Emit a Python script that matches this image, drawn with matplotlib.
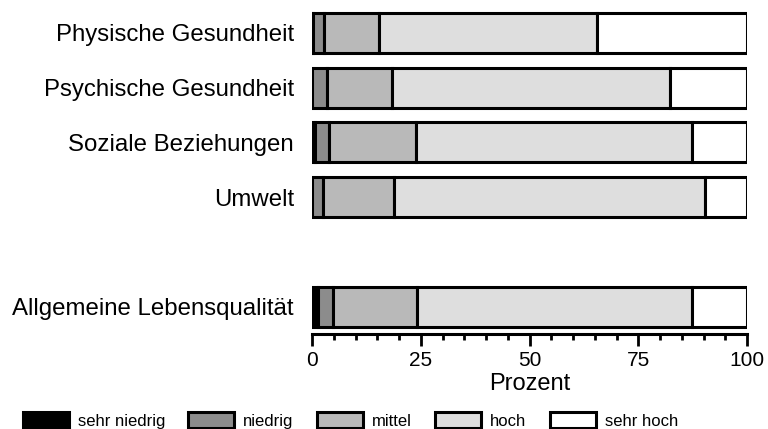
import matplotlib
matplotlib.use("Agg")
import matplotlib.pyplot as plt
import numpy as np

plt.rcParams['font.family'] = ['Liberation Sans', 'DejaVu Sans']

# Daten (Prozent je Kategorie)
bereiche = ['Physische Gesundheit', 'Psychische Gesundheit', 'Soziale Beziehungen',
            'Umwelt', 'Allgemeine Lebensqualität']
positionen = [0, 1, 2, 3, 5]
stufen = ['sehr niedrig', 'niedrig', 'mittel', 'hoch', 'sehr hoch']
sehr_niedrig = [0.3, 0.0, 0.8, 0.0, 1.3]
niedrig = [2.5, 3.4, 3.2, 2.6, 3.6]
mittel = [12.5, 15.1, 20.0, 16.2, 19.3]
hoch = [50.2, 63.7, 63.4, 71.6, 63.2]
sehr_hoch = [34.5, 17.8, 12.6, 9.6, 12.6]

farben = ['#000000', '#8c8c8c', '#b9b9b9', '#dedede', '#ffffff']

fig = plt.figure(figsize=(7.68, 4.29), dpi=100)
ax = fig.add_axes([312 / 768, 1 - 333.5 / 429, 435 / 768, 323.5 / 429])

links = np.zeros(len(bereiche))
for name, werte, farbe in zip(stufen, [sehr_niedrig, niedrig, mittel, hoch, sehr_hoch], farben):
    ax.barh(positionen, werte, left=links, height=0.73, color=farbe,
            edgecolor='black', linewidth=2.2, label=name)
    links += np.array(werte)

ax.set_xlim(0, 100)
ax.set_ylim(5.49, -0.42)
ax.set_yticks(positionen)
ax.set_yticklabels(bereiche, fontsize=17.3)
ax.tick_params(axis='y', length=0, pad=13)

ax.set_xticks([0, 25, 50, 75, 100])
ax.set_xticks(np.arange(0, 101, 5), minor=True)
ax.tick_params(axis='x', which='major', length=8.5, width=2, labelsize=15, pad=4)
ax.tick_params(axis='x', which='minor', length=4, width=2)
ax.set_xlabel('Prozent', fontsize=17, labelpad=2)

for s in ['top', 'right', 'left']:
    ax.spines[s].set_visible(False)
ax.spines['bottom'].set_linewidth(2.2)
ax.spines['bottom'].set_bounds(0, 100)

handles, labels = ax.get_legend_handles_labels()
fig.legend(handles, labels, loc='upper left', bbox_to_anchor=(22.7 / 768, 1 - 412.3 / 429),
           ncol=5, frameon=False, fontsize=12, handlelength=2.75, handleheight=1.1,
           handletextpad=0.55, columnspacing=1.4, borderpad=0, borderaxespad=0)

fig.savefig('out.png', dpi=100)
